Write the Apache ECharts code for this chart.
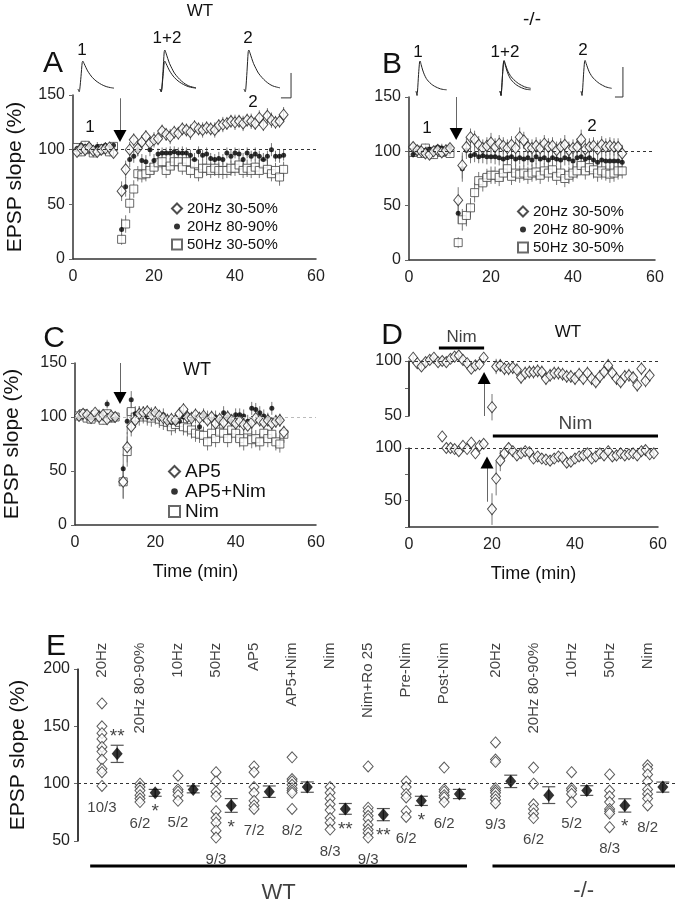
<!DOCTYPE html>
<html><head><meta charset="utf-8">
<script src="https://cdn.jsdelivr.net/npm/echarts@6/dist/echarts.min.js"></script>
<style>html,body{margin:0;padding:0;background:#fff}#c{width:675px;height:900px}</style>
</head><body><div id="c"></div>
<script>
// ================= DATA =================
// Panels A, B, C: sample times (min); tetanus at ~11 min
const timesABC = [1,2,3,4,5,6,7,8,9,10,12,13,14,15,16,17,18,19,20,21,22,23,24,25,26,27,28,29,30,31,32,33,34,35,36,37,38,39,40,41,42,43,44,45,46,47,48,49,50,51,52];

// Panel A (WT)
const aDiamond = [98,101,100,102,99,98,100,101,102,97, 62,82,100,109,101,107,112,106,109,110, 117,114,112,116,115,119,118,116,121,119, 118,120,119,118,122,123,124,126,125,126, 124,127,126,124,129,123,131,127,125,126, 132];
const aDiamondErr = [4,5,4,4,5,4,4,5,4,4, 9,8,7,6,7,6,6,6,7,6, 6,6,7,6,6,6,6,7,6,6, 7,6,6,7,6,7,6,6,7,6, 7,6,7,6,7,6,7,7,6,6, 7];
const aCircle = [101,104,103,104,100,103,101,104,102,104, 27,66,91,94,100,90,89,100,90,96, 97,97,97,98,97,97,97,95,91,98, 95,96,92,91,92,91,97,94,97,96, 91,97,94,96,94,91,94,100,94,94, 95];
const aCircleErr = [3,3,4,3,3,4,3,3,4,3, 10,9,7,6,6,6,6,6,6,5, 5,5,6,5,5,6,5,5,6,5, 5,6,5,5,6,5,5,6,5,5, 6,5,5,6,5,6,5,6,5,6, 5];
const aSquare = [102,98,104,100,97,99,101,100,98,103, 18,32,51,64,78,77,78,81,84,88, 89,81,85,89,89,84,89,81,87,78, 83,83,81,83,81,81,81,83,83,86, 81,83,81,84,81,87,82,78,81,75, 82];
const aSquareErr = [4,4,4,4,4,4,4,4,4,4, 5,8,9,8,7,7,7,7,7,7, 7,7,7,8,7,7,7,7,7,7, 8,7,7,7,7,8,7,7,7,7, 7,8,7,7,7,7,8,7,7,8, 7];

// Panel B (-/-)
const bDiamond = [104,101,100,98,97,100,101,99,101,103, 55,87,104,113,111,106,103,105,108,104, 107,105,103,106,103,113,110,104,103,105, 103,107,104,105,101,104,106,101,103,104, 111,102,104,105,102,106,104,105,104,104, 98];
const bDiamondErr = [4,4,5,4,4,4,5,4,4,4, 12,12,8,8,8,8,8,8,9,8, 8,8,8,8,8,9,8,8,8,8, 8,8,8,8,8,8,9,8,8,8, 9,8,8,8,8,8,8,8,8,8, 8];
const bCircle = [97,100,99,101,102,100,104,103,102,104, 43,84,101,96,97,95,96,95,95,95, 94,93,94,95,93,94,93,94,92,95, 93,94,92,94,93,92,94,93,91,94, 95,93,94,92,90,92,91,91,91,91, 90];
const bCircleErr = [3,4,4,3,4,4,3,4,4,3, 10,12,8,7,7,6,7,7,6,7, 7,6,7,7,7,6,7,7,6,7, 7,6,7,7,6,7,7,6,7,7, 6,7,7,6,7,7,6,7,7,6, 7];
const bSquare = [99,101,98,103,100,97,101,99,100,98, 16,37,41,48,62,73,71,76,78,78, 76,80,84,77,80,79,80,78,80,81, 78,82,80,83,77,80,75,78,80,82, 87,82,85,83,80,82,80,79,80,82, 82];
const bSquareErr = [4,4,4,4,4,4,4,4,4,4, 5,10,10,9,9,8,8,8,8,8, 8,8,7,8,8,8,7,8,8,8, 8,7,8,8,8,7,8,8,8,7, 8,8,7,8,8,8,7,8,8,8, 7];

// Panel C (WT)
const cDiamond = [101,103,102,99,104,100,102,98,101,100, 40,72,91,97,103,104,105,102,104,101, 99,97,98,97,103,107,100,99,102,99, 101,97,100,94,98,95,100,97,94,96, 93,92,95,99,97,95,97,94,96,97, 86];
const cDiamondErr = [4,4,4,4,4,4,4,4,4,4, 16,14,9,7,7,6,6,6,6,6, 6,6,6,6,6,6,6,6,6,6, 6,6,6,6,6,6,6,6,6,6, 6,6,6,6,6,6,6,6,6,6, 5];
const cCircle = [100,102,101,99,100,103,100,112,101,99, 52,96,116,103,104,102,100,103,104,100, 102,96,95,95,96,100,102,98,100,91, 102,100,98,100,97,104,100,96,102,102, 101,96,108,107,104,101,98,108,96,97, null];
const cCircleErr = [4,4,4,4,4,4,4,4,4,4, 14,12,8,7,6,6,6,6,6,6, 6,6,6,6,6,6,6,6,6,6, 6,6,6,6,6,6,6,6,6,6, 6,6,6,6,6,6,6,6,6,6, 0];
const cSquare = [101,103,99,98,102,100,97,103,99,100, 40,68,105,100,100,102,100,99,101,98, 96,95,91,93,95,91,90,88,85,84, 83,77,85,80,86,85,80,88,85,80, 77,88,79,80,77,85,80,84,77,75, 84];
const cSquareErr = [4,4,4,4,4,4,4,4,4,4, 15,14,9,8,8,8,8,8,8,8, 8,8,8,8,8,8,8,8,8,8, 8,8,8,8,8,8,8,8,8,8, 8,8,8,8,8,8,8,8,8,8, 8];

// Panel D (WT, Nim before / after)
const dTopTimes = [1,2,3,4,5,6,7,8,9,10,11,12,13,14,15,16,17,18,20,21,22,23,24,25,26,27,28,29,30,31,32,33,34,35,36,37,38,39,40,41,42,43,44,45,46,47,48,49,50,51,52,53,54,55,56,57,58];
const dTop = [103,98,95,99,101,103,99,100,99,102,104,105,101,98,93,96,97,103, 58,95,96,93,93,94,92,85,89,90, 90,91,90,84,87,89,89,88,86,86, 84,88,84,89,84,81,86,90,96,89, 84,81,86,87,85,78,93,82,87];
const dTopErr = [3,3,3,3,3,3,3,3,3,3,3,3,3,3,3,3,3,3, 12,7,6,6,6,6,6,6,6,6, 6,6,6,6,6,6,6,6,6,6, 6,6,6,6,6,6,6,6,6,6, 6,6,6,6,6,6,6,6,6];
const dBotTimes = [8,9,10,11,12,13,14,15,16,17,18,20,21,22,23,24,25,26,27,28,29,30,31,32,33,34,35,36,37,38,39,40,41,42,43,44,45,46,47,48,49,50,51,52,53,54,55,56,57,58,59];
const dBot = [111,100,100,99,97,102,99,105,95,102,104, 42,71,88,95,100,97,93,95,97,96, 90,92,90,89,88,90,92,91,86,87, 90,92,93,95,90,92,95,93,97,92, 93,95,93,94,95,93,97,98,94,95];
const dBotErr = [0,0,0,0,0,0,0,0,0,0,0, 15,16,10,6,5,5,5,5,5,5, 5,5,5,5,5,5,5,5,5,5, 5,5,5,5,5,5,5,5,5,5, 5,5,5,5,5,5,5,5,5,5];
const nimWindowTop = [7.2, 18.1];
const nimWindowBottom = [20.2, 60];
const tetanusA = 11.6, tetanusB = 11.5, tetanusC = 11.2, tetanusDTop = 18.1, tetanusDBot = 18.8;

// Example EPSP traces (ms, relative amplitude)
const traceMs = [0,1,1.5,2.5,3.5,4,5,6.5,8,10,12,15,18,21,24,27,30];
const traceA1 = [0,-0.1,0,0.45,0.95,1.0,0.92,0.78,0.65,0.52,0.41,0.29,0.2,0.13,0.08,0.05,0.03];
const traceA2 = [0,-0.1,0,0.63,1.33,1.4,1.29,1.09,0.91,0.73,0.57,0.41,0.28,0.18,0.11,0.07,0.04];
const traceB1 = [0,-0.15,0,0.55,0.97,1.0,0.88,0.7,0.56,0.42,0.33,0.23,0.16,0.11,0.07,0.05,0.04];
const traceB2 = [0,-0.15,0,0.56,0.99,1.02,0.92,0.77,0.64,0.52,0.43,0.33,0.25,0.19,0.14,0.11,0.09];

// Panel E summary
const eGroups = ["20Hz","20Hz 80-90%","10Hz","50Hz","AP5","AP5+Nim","Nim","Nim+Ro 25","Pre-Nim","Post-Nim","20Hz","20Hz 80-90%","10Hz","50Hz","Nim"];
const eGenotype = ["WT","WT","WT","WT","WT","WT","WT","WT","WT","WT","-/-","-/-","-/-","-/-","-/-"];
const eValues = [
 [170,150,144,139,132,128,121,113,110,98],
 [100,97,94,90,87,84],
 [107,95,93,90,85],
 [110,102,93,89,76,70,66,59,53],
 [115,110,97,92,85,81,78],
 [123,104,102,99,96,94,92,78],
 [97,92,87,82,77,70,66,60],
 [115,79,76,72,69,64,60,57,53],
 [102,97,91,88,76,71],
 [114,95,93,90,88,84],
 [136,121,119,96,94,92,89,86,83],
 [114,100,82,78,74,70],
 [110,96,94,91,84],
 [108,94,89,84,78,76,74,62],
 [116,113,108,102,95,91,87,81]
];
const eMeans = [126,92,95,81,93,97,78,73,85,91,102,90,94,81,97];
const eSE = [7.5,3,3,6,5,4.5,4.7,5.3,4,4,5.4,7.3,4.2,5.8,4.4];
const eN = ["10/3","6/2","5/2","9/3","7/2","8/2","8/3","9/3","6/2","6/2","9/3","6/2","5/2","8/3","8/2"];
const eSig = ["**","*","","*","","","**","**","*","","","","","*",""];

// ================= CHART =================
const FONT = "'Liberation Sans', Arial, Helvetica, sans-serif";
const chart = echarts.init(document.getElementById('c'), null, {renderer:'canvas', width:675, height:900});

const grids = [
 {left:73, top:95, width:243, height:164},   //0 A
 {left:409, top:97, width:246, height:163},  //1 B
 {left:75, top:363, width:241, height:162},  //2 C
 {left:409, top:361, width:249, height:55},  //3 D top
 {left:409, top:448, width:249, height:79},  //4 D bottom
 {left:74, top:669, width:601, height:172},  //5 E
 {left:78, top:49, width:48, height:50},     //6 A trace 1
 {left:160, top:49, width:48, height:50},    //7 A trace 1+2
 {left:244, top:49, width:48, height:50},    //8 A trace 2
 {left:416, top:50, width:45, height:50},    //9 B trace 1
 {left:500, top:50, width:45, height:50},    //10 B trace 1+2
 {left:581, top:50, width:45, height:50}     //11 B trace 2
];

const axLine = {onZero:false, lineStyle:{color:'#333', width:1.5}};
const axLab = {fontSize:16, color:'#222', fontFamily:FONT};
function timeX(gi, extra){
  return Object.assign({gridIndex:gi, type:'value', min:0, max:60, interval:20, axisLine:axLine,
    axisTick:{show:false}, splitLine:{show:false}, axisLabel:Object.assign({margin:10}, axLab)}, extra||{});
}
function hiddenX(gi, min, max){ return {gridIndex:gi, type:'value', min, max, show:false, splitLine:{show:false}}; }
function hiddenY(gi, min, max){ return {gridIndex:gi, type:'value', min, max, show:false, splitLine:{show:false}}; }
function pctY(gi, extra){
  return Object.assign({gridIndex:gi, type:'value', min:0, max:150, interval:50, axisLine:{show:true, onZero:false, lineStyle:{color:'#333', width:1.5}},
    axisTick:{show:true, length:4, lineStyle:{color:'#666'}}, splitLine:{show:false}, axisLabel:Object.assign({margin:8}, axLab)}, extra||{});
}
const yName = {name:'EPSP slope (%)', nameLocation:'middle', nameTextStyle:{fontSize:21, color:'#111', fontFamily:FONT}};
const tName = {name:'Time (min)', nameLocation:'middle', nameGap:38, nameTextStyle:{fontSize:18, color:'#111', fontFamily:FONT}};

const E_XMIN = -0.63, E_XMAX = 15.07;
const xAxes = [
 timeX(0), timeX(1), timeX(2, tName), hiddenX(3, 0, 60), timeX(4, tName),
 hiddenX(5, E_XMIN, E_XMAX),
 hiddenX(6,0,40), hiddenX(7,0,40), hiddenX(8,0,40),
 hiddenX(9,0,44), hiddenX(10,0,44), hiddenX(11,0,44)
];
const only50_100 = v => (v===50||v===100) ? String(v) : '';
const yAxes = [
 pctY(0, Object.assign({nameGap:47}, yName)),
 pctY(1),
 pctY(2, Object.assign({nameGap:52}, yName)),
 pctY(3, {min:50, max:100, interval:25, axisLabel:Object.assign({margin:7, formatter:only50_100}, axLab)}),
 pctY(4, {min:25, max:100, interval:25, axisLabel:Object.assign({margin:7, formatter:only50_100}, axLab)}),
 pctY(5, Object.assign({min:50, max:200, interval:50, nameGap:49}, yName)),
 hiddenY(6,-0.36,1.436), hiddenY(7,-0.36,1.436), hiddenY(8,-0.36,1.436),
 hiddenY(9,-0.3,1.367), hiddenY(10,-0.3,1.367), hiddenY(11,-0.3,1.367)
];

const STY = {
  diamond:{symbol:'diamond', symbolSize:[9,11], itemStyle:{color:'#fff', borderColor:'#222', borderWidth:1}, z:4},
  circle:{symbol:'circle', symbolSize:5, itemStyle:{color:'#000'}, z:3},
  square:{symbol:'rect', symbolSize:8, itemStyle:{color:'#fff', borderColor:'#444', borderWidth:1}, z:2}
};
function scat(name, gi, times, vals, kind, extra){
  const data = times.map((t,i)=> vals[i]==null ? null : [t, vals[i]]).filter(d=>d);
  const s = Object.assign({type:'scatter', name, xAxisIndex:gi, yAxisIndex:gi, data, clip:false, silent:true}, JSON.parse(JSON.stringify(STY[kind])));
  return Object.assign(s, extra||{});
}
function errs(gi, times, vals, err, color){
  const data = times.map((t,i)=> (vals[i]==null || !err[i]) ? null : [t, vals[i]-err[i], vals[i]+err[i]]).filter(d=>d);
  return {type:'custom', xAxisIndex:gi, yAxisIndex:gi, data, z:1, silent:true, clip:false, encode:{x:0, y:[1,2]},
    renderItem:(p, api)=>{
      const a = api.coord([api.value(0), api.value(1)]), b = api.coord([api.value(0), api.value(2)]);
      return {type:'line', shape:{x1:a[0], y1:a[1], x2:b[0], y2:b[1]}, style:{stroke:color||'#777', lineWidth:1}};
    }};
}
function refLine(color){
  return {silent:true, symbol:['none','none'], label:{show:false}, animation:false,
    lineStyle:{color:color||'#333', type:[3,3], width:1}, data:[{yAxis:100}]};
}
function arrow(t, vFrom, vTo, vHead, down){
  return {
    markLine:{silent:true, symbol:['none','none'], label:{show:false}, animation:false,
      lineStyle:{color:'#666', type:'solid', width:1}, data:[[{coord:[t, vFrom]},{coord:[t, vTo]}]]},
    markPoint:{silent:true, animation:false, label:{show:false},
      data:[{coord:[t, vHead], symbol:'triangle', symbolRotate: down ? 180 : 0, symbolSize:[13,12], itemStyle:{color:'#000'}}]}
  };
}
function traceSeries(gi, vals, extra){
  return Object.assign({type:'line', xAxisIndex:gi, yAxisIndex:gi, data:traceMs.map((t,i)=>[t, vals[i]]),
    showSymbol:false, smooth:0.25, silent:true, lineStyle:{color:'#222', width:1}, clip:false}, extra||{});
}
function polyline(gi, pts, width){
  return {type:'line', xAxisIndex:gi, yAxisIndex:gi, data:pts, showSymbol:false, silent:true, clip:false,
    lineStyle:{color: width>2 ? '#000' : '#333', width:width||1}};
}
function textAt(gi, x, y, text, fs, dy){
  return {type:'scatter', xAxisIndex:gi, yAxisIndex:gi, silent:true, clip:false, symbolSize:1, z:6,
    itemStyle:{color:'rgba(0,0,0,0)'}, data:[{value:[x, y], label:{formatter:text}}],
    label:{show:true, position:'inside', offset:[0, dy], align:'center', verticalAlign:'middle', fontSize:fs, color:'#111', fontFamily:FONT}};
}
function hBar(gi, x0, x1, y, text, fs, dy){
  return [polyline(gi, [[x0,y],[x1,y]], 3), textAt(gi, (x0+x1)/2, y, text, fs, dy)];
}

const series = [];
// --- A
series.push(errs(0, timesABC, aSquare, aSquareErr), errs(0, timesABC, aCircle, aCircleErr), errs(0, timesABC, aDiamond, aDiamondErr));
series.push(scat('50Hz 30-50%', 0, timesABC, aSquare, 'square', {markLine:refLine()}));
series.push(scat('20Hz 80-90%', 0, timesABC, aCircle, 'circle', arrow(tetanusA, 147, 117, 112.5, true)));
series.push(scat('20Hz 30-50%', 0, timesABC, aDiamond, 'diamond'));
// --- B
series.push(errs(1, timesABC, bSquare, bSquareErr), errs(1, timesABC, bCircle, bCircleErr), errs(1, timesABC, bDiamond, bDiamondErr));
series.push(scat('50Hz 30-50%', 1, timesABC, bSquare, 'square', {markLine:refLine()}));
series.push(scat('20Hz 80-90%', 1, timesABC, bCircle, 'circle', arrow(tetanusB, 150, 121, 116, true)));
series.push(scat('20Hz 30-50%', 1, timesABC, bDiamond, 'diamond'));
// --- C
series.push(errs(2, timesABC, cSquare, cSquareErr), errs(2, timesABC, cCircle, cCircleErr), errs(2, timesABC, cDiamond, cDiamondErr));
series.push(scat('Nim', 2, timesABC, cSquare, 'square', {markLine:refLine('#bbb')}));
series.push(scat('AP5+Nim', 2, timesABC, cCircle, 'circle', arrow(tetanusC, 150, 123, 117.6, true)));
series.push(scat('AP5', 2, timesABC, cDiamond, 'diamond'));
// --- D top
series.push(errs(3, dTopTimes, dTop, dTopErr));
series.push(scat('D-top', 3, dTopTimes, dTop, 'diamond', arrow(tetanusDTop, 50, 80, 84.5, false)));
series.push(Object.assign(scat('D-top-ref', 3, [0], [null], 'diamond'), {data:[[60,100]], symbolSize:0, markLine:refLine()}));
series.push(...hBar(3, nimWindowTop[0], nimWindowTop[1], 111.8, 'Nim', 17, -11));
// --- D bottom
series.push(errs(4, dBotTimes, dBot, dBotErr));
series.push(scat('D-bottom', 4, dBotTimes, dBot, 'diamond', arrow(tetanusDBot, 49, 82, 86.3, false)));
series.push(Object.assign(scat('D-bot-ref', 4, [0], [null], 'diamond'), {data:[[60,100]], symbolSize:0, markLine:refLine()}));
series.push(...hBar(4, nimWindowBottom[0], nimWindowBottom[1], 111.4, 'Nim', 19, -12));

// --- E
const ePos = eGroups.map((g,i)=> i + (eGenotype[i]==='-/-' ? 0.35 : 0));
const MEAN_OFF = 0.4;
const indiv = [];
eValues.forEach((vals,i)=> vals.forEach(v=> indiv.push([ePos[i], v])));
const wtPos = ePos.filter((p,i)=>eGenotype[i]==='WT');
const koPos = ePos.filter((p,i)=>eGenotype[i]==='-/-');
series.push({type:'scatter', name:'individual', xAxisIndex:5, yAxisIndex:5, data:indiv, clip:false, silent:true,
  symbol:'diamond', symbolSize:[10,11], itemStyle:{color:'#fff', borderColor:'#333', borderWidth:1}, z:3,
  markLine:refLine()});
series.push(...hBar(5, wtPos[0]-0.31, wtPos[wtPos.length-1]+0.6, 28.2, 'WT', 22, 27));
series.push(...hBar(5, koPos[0]-0.08, koPos[koPos.length-1]+0.72, 28.2, '-/-', 22, 25));
series.push({type:'custom', xAxisIndex:5, yAxisIndex:5, silent:true, clip:false, z:2,
  data: eMeans.map((m,i)=>[ePos[i]+MEAN_OFF, m-eSE[i], m+eSE[i]]), encode:{x:0, y:[1,2]},
  renderItem:(p, api)=>{
    const a = api.coord([api.value(0), api.value(1)]), b = api.coord([api.value(0), api.value(2)]);
    const w = 6.5, st = {stroke:'#555', lineWidth:1.2};
    return {type:'group', children:[
      {type:'line', shape:{x1:a[0], y1:a[1], x2:b[0], y2:b[1]}, style:st},
      {type:'line', shape:{x1:a[0]-w, y1:a[1], x2:a[0]+w, y2:a[1]}, style:st},
      {type:'line', shape:{x1:b[0]-w, y1:b[1], x2:b[0]+w, y2:b[1]}, style:st}]};
  }});
series.push({type:'scatter', name:'mean', xAxisIndex:5, yAxisIndex:5, silent:true, clip:false, z:4,
  data: eMeans.map((m,i)=>[ePos[i]+MEAN_OFF, m]), symbol:'diamond', symbolSize:[11,13], itemStyle:{color:'#000'}});
series.push({type:'scatter', xAxisIndex:5, yAxisIndex:5, silent:true, clip:false, z:5, symbolSize:1,
  itemStyle:{color:'rgba(0,0,0,0)'},
  data: eGroups.map((g,i)=>({value:[ePos[i], 223], label:{formatter:g}})),
  label:{show:true, position:'inside', rotate:90, align:'right', verticalAlign:'middle', fontSize:15, color:'#111', fontFamily:FONT}});
series.push({type:'scatter', xAxisIndex:5, yAxisIndex:5, silent:true, clip:false, z:5, symbolSize:1,
  itemStyle:{color:'rgba(0,0,0,0)'},
  data: eN.map((n,i)=>({value:[ePos[i], Math.min.apply(null, eValues[i])], label:{formatter:n}})),
  label:{show:true, position:'inside', offset:[0,22], align:'center', verticalAlign:'middle', fontSize:15, color:'#111', fontFamily:FONT}});
series.push({type:'scatter', xAxisIndex:5, yAxisIndex:5, silent:true, clip:false, z:5, symbolSize:1,
  itemStyle:{color:'rgba(0,0,0,0)'},
  data: eSig.map((s,i)=> s ? ({value:[ePos[i]+MEAN_OFF, eMeans[i]>100 ? eMeans[i]+eSE[i] : eMeans[i]-eSE[i]],
        label:{formatter:s, offset:[0, eMeans[i]>100 ? -8 : 15]}}) : null).filter(d=>d),
  label:{show:true, position:'inside', align:'center', verticalAlign:'middle', fontSize:19, color:'#111', fontFamily:FONT}});

// --- traces
series.push(traceSeries(6, traceA1));
series.push(traceSeries(7, traceA1), traceSeries(7, traceA2));
series.push(traceSeries(8, traceA2));
series.push(polyline(8, [[30.8,-0.32],[39.2,-0.32],[39.2,0.575]], 1));
series.push(traceSeries(9, traceB1));
series.push(traceSeries(10, traceB1), traceSeries(10, traceB2));
series.push(traceSeries(11, traceB2));
series.push(polyline(11, [[33.2,-0.2],[41,-0.2],[41,0.8]], 1));

const DOT_ICON = 'path://M0,0M10,10M5,2A3,3,0,0,1,5,8A3,3,0,0,1,5,2Z';
function legendAt(left, top, names, icons, fs, ih, gap){
  return {left, top, orient:'vertical', selectedMode:false, itemWidth:ih, itemHeight:ih, itemGap:gap,
    textStyle:{fontSize:fs, color:'#111', fontFamily:FONT},
    data:names.map((n,i)=>({name:n, icon:icons[i]}))};
}
const legends = [
  legendAt(166, 196, ['20Hz 30-50%','20Hz 80-90%','50Hz 30-50%'], ['diamond',DOT_ICON,'rect'], 15, 10, 3),
  legendAt(512, 199, ['20Hz 30-50%','20Hz 80-90%','50Hz 30-50%'], ['diamond',DOT_ICON,'rect'], 15, 10, 3),
  legendAt(163, 457, ['AP5','AP5+Nim','Nim'], ['diamond',DOT_ICON,'rect'], 19, 11, 1)
];

function txt(text, x, y, size, extra){
  return {type:'text', silent:true, style:Object.assign({text, x, y, font:size+'px '+FONT, fill:'#111',
    align:'center', verticalAlign:'middle', textAlign:'center', textVerticalAlign:'middle'}, extra||{})};
}
const graphics = [
  txt('A', 53, 64, 30), txt('B', 392, 65, 30), txt('C', 54, 339, 30), txt('D', 392, 336, 30), txt('E', 56, 647, 30),
  txt('WT', 200, 11, 17), txt('-/-', 532, 20, 19),
  txt('1', 82, 50, 17), txt('1+2', 167, 38, 17), txt('2', 248, 38, 17),
  txt('1', 418, 52, 17), txt('1+2', 505, 52, 17), txt('2', 583, 50, 17),
  txt('1', 90, 127, 17), txt('2', 253, 102, 17),
  txt('1', 427, 128, 17), txt('2', 592, 126, 17),
  txt('WT', 197, 370, 18), txt('WT', 568, 332, 17)
];

chart.setOption({
  animation:false,
  backgroundColor:'#fff',
  textStyle:{fontFamily:FONT},
  grid:grids, xAxis:xAxes, yAxis:yAxes, series, legend:legends,
  graphic:{elements:graphics}
});

// vertical value-axis spines for panels D (top/bottom) and E, located through the grids' own scales
const spines = [[3, 0, 50, 100], [4, 0, 25, 100], [5, E_XMIN, 50, 200]].map(([gi, x, y0, y1]) => {
  const p0 = chart.convertToPixel({gridIndex:gi}, [x, y0]);
  const p1 = chart.convertToPixel({gridIndex:gi}, [x, y1]);
  return {type:'line', silent:true, z:100, shape:{x1:p0[0], y1:p0[1], x2:p1[0], y2:p1[1]}, style:{stroke:'#333', lineWidth:1.5}};
});
chart.setOption({graphic:{elements:graphics.concat(spines)}});
</script></body></html>
